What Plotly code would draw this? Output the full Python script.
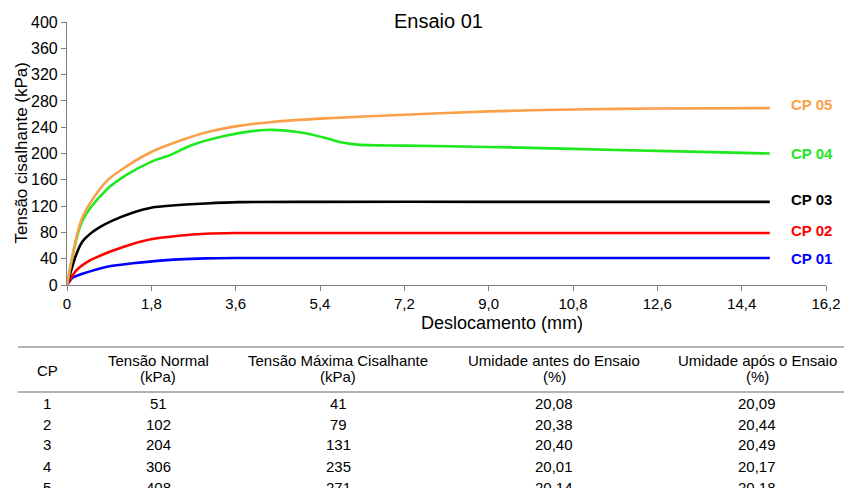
import plotly.graph_objects as go

# ---------------- data ----------------
x_cp01 = [0, 0.12, 0.33, 0.83, 1.4, 1.82, 2.39, 2.96, 3.6, 5.4, 9.0, 12.6, 15.0]
y_cp01 = [0, 11, 17, 27.5, 33, 36, 39, 40.5, 41, 41, 41, 41, 41]

x_cp02 = [0, 0.19, 0.48, 0.97, 1.4, 1.82, 2.39, 2.96, 3.6, 5.4, 9.0, 12.6, 15.0]
y_cp02 = [0, 21.5, 37, 52, 62.5, 70, 75, 78, 79, 79, 79, 79, 79]

x_cp03 = [0, 0.19, 0.33, 0.48, 0.7, 0.97, 1.4, 1.82, 2.25, 2.96, 3.67, 5.4, 9.0, 12.6, 15.0]
y_cp03 = [0, 45, 66, 77, 88, 98, 110, 118, 121, 124, 126, 126.5, 126.5, 126.5, 126.5]

x_cp04 = [0, 0.33, 0.83, 1.26, 1.82, 2.18, 2.67, 3.38, 3.95, 4.38, 5.0, 5.5, 5.85, 6.2, 7.2, 9.0, 10.8, 12.6, 15.0]
y_cp04 = [0, 98, 144, 167, 188, 197, 213, 227, 234, 236, 232, 224, 217, 213.5, 212, 210, 207, 204, 200]

x_cp05 = [0, 0.33, 0.83, 1.26, 1.82, 2.39, 2.96, 3.67, 4.38, 5.4, 7.2, 9.0, 10.8, 12.6, 15.0]
y_cp05 = [0, 103, 157, 180, 203, 219, 232, 242, 248, 253, 259, 264, 267, 268.5, 269]

series_names = ["CP 01", "CP 02", "CP 03", "CP 04", "CP 05"]
series_colors = ["#0000FF", "#FF0000", "#000000", "#1EE81E", "#FBA04A"]

x_tickvals = [0, 1.8, 3.6, 5.4, 7.2, 9.0, 10.8, 12.6, 14.4, 16.2]
x_ticktext = ["0", "1,8", "3,6", "5,4", "7,2", "9,0", "10,8", "12,6", "14,4", "16,2"]
y_tickvals = [0, 40, 80, 120, 160, 200, 240, 280, 320, 360, 400]

title_text = "Ensaio 01"
x_title = "Deslocamento (mm)"
y_title = "Tensão cisalhante (kPa)"

# table
tab_head1 = ["CP", "Tensão Normal", "Tensão Máxima Cisalhante", "Umidade antes do Ensaio", "Umidade após o Ensaio"]
tab_head2 = ["", "(kPa)", "(kPa)", "(%)", "(%)"]
tab_cp = ["1", "2", "3", "4", "5"]
tab_normal = ["51", "102", "204", "306", "408"]
tab_max = ["41", "79", "131", "235", "271"]
tab_um_antes = ["20,08", "20,38", "20,40", "20,01", "20,14"]
tab_um_apos = ["20,09", "20,44", "20,49", "20,17", "20,18"]

# ---------------- layout helpers ----------------
W, H = 844, 488
L, R, T, B = 67, 826, 22, 285
FONT = "Liberation Sans, Arial, sans-serif"


def px(x):
    return (x - L) / (R - L)


def py(y):
    return (B - y) / (B - T)


fig = go.Figure()
xs = [x_cp01, x_cp02, x_cp03, x_cp04, x_cp05]
ys = [y_cp01, y_cp02, y_cp03, y_cp04, y_cp05]
for xv, yv, nm, col in zip(xs, ys, series_names, series_colors):
    fig.add_trace(go.Scatter(x=xv, y=yv, mode="lines", name=nm,
                             line=dict(color=col, width=2.6, shape="spline", smoothing=0.8),
                             showlegend=False, cliponaxis=False))

annotations = []
label_shift = [0, 3, 2, 0, 4]
for yv, nm, col, sh in zip(ys, series_names, series_colors, label_shift):
    annotations.append(dict(x=15.4, y=yv[-1], xref="x", yref="y", text="<b>%s</b>" % nm,
                            showarrow=False, xanchor="left", yanchor="middle", yshift=sh,
                            font=dict(family=FONT, size=15, color=col)))

annotations.append(dict(x=px(438), y=py(21), xref="paper", yref="paper", text=title_text,
                        showarrow=False, xanchor="center", yanchor="middle",
                        font=dict(family=FONT, size=20, color="#000")))
annotations.append(dict(x=px(502), y=py(323), xref="paper", yref="paper", text=x_title,
                        showarrow=False, xanchor="center", yanchor="middle",
                        font=dict(family=FONT, size=18, color="#000")))
annotations.append(dict(x=px(21), y=py(153.5), xref="paper", yref="paper", text=y_title,
                        showarrow=False, xanchor="center", yanchor="middle", textangle=-90,
                        font=dict(family=FONT, size=17, color="#000")))

# table
col_x = [47, 158, 338, 554, 757]
tfont = dict(family=FONT, size=15, color="#000")
for cx, h1, h2 in zip(col_x, tab_head1, tab_head2):
    if h2:
        annotations.append(dict(x=px(cx), y=py(360), xref="paper", yref="paper", text=h1,
                                showarrow=False, xanchor="center", yanchor="middle", font=tfont))
        annotations.append(dict(x=px(cx), y=py(377), xref="paper", yref="paper", text=h2,
                                showarrow=False, xanchor="center", yanchor="middle", font=tfont))
    else:
        annotations.append(dict(x=px(cx), y=py(370), xref="paper", yref="paper", text=h1,
                                showarrow=False, xanchor="center", yanchor="middle", font=tfont))

row_y = [403, 424, 445, 466, 487]
cols = [tab_cp, tab_normal, tab_max, tab_um_antes, tab_um_apos]
for cx, colvals in zip(col_x, cols):
    for ry, v in zip(row_y, colvals):
        annotations.append(dict(x=px(cx), y=py(ry), xref="paper", yref="paper", text=v,
                                showarrow=False, xanchor="center", yanchor="middle", font=tfont))

shapes = [
    dict(type="line", xref="paper", yref="paper", x0=px(18), x1=px(844), y0=py(347), y1=py(347),
         line=dict(color="#9a9a9a", width=1.5)),
    dict(type="line", xref="paper", yref="paper", x0=px(18), x1=px(844), y0=py(392), y1=py(392),
         line=dict(color="#9a9a9a", width=1.5)),
]

axis_common = dict(showgrid=False, zeroline=False, showline=True, linecolor="#808080", linewidth=1.2,
                   ticks="outside", ticklen=5, tickcolor="#808080", tickwidth=1.2, automargin=False)

fig.update_layout(
    width=W, height=H,
    margin=dict(l=L, r=W - R, t=T, b=H - B, autoexpand=False),
    paper_bgcolor="white", plot_bgcolor="white",
    xaxis=dict(range=[0, 16.2], tickvals=x_tickvals, ticktext=x_ticktext,
               tickfont=dict(family=FONT, size=15, color="#000"), **axis_common),
    yaxis=dict(range=[0, 400], tickvals=y_tickvals,
               tickfont=dict(family=FONT, size=16, color="#000"), **axis_common),
    annotations=annotations,
    shapes=shapes,
)

fig.write_html("out.html", config={"displayModeBar": False},
               post_script="document.body.style.margin='0';document.body.style.padding='0';")
